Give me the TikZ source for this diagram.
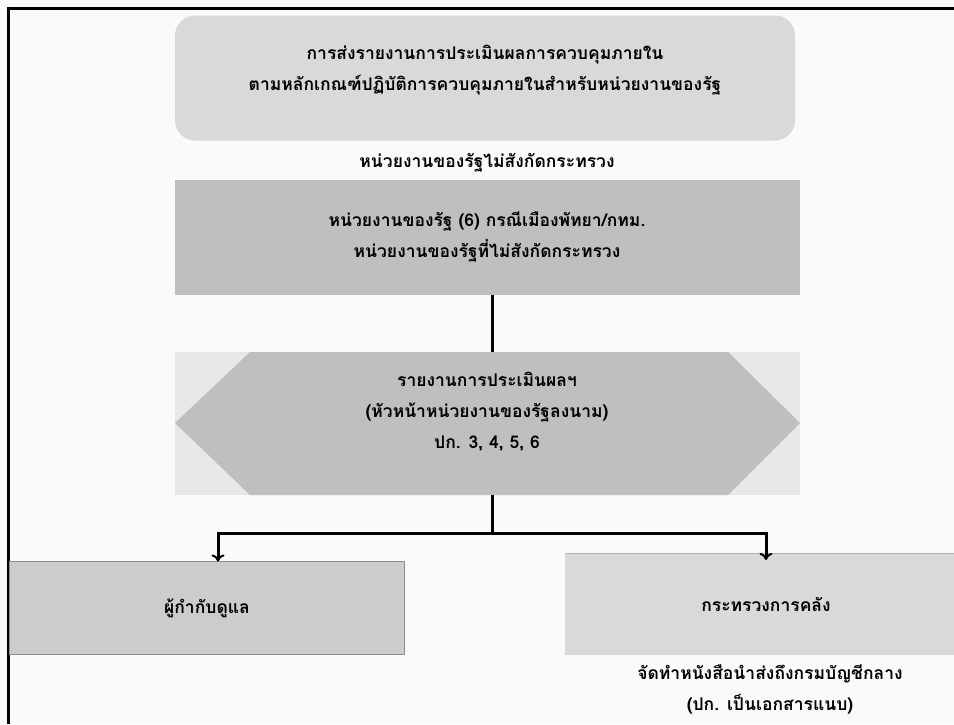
\documentclass[tikz,border=0pt]{standalone}
\usepackage{fontspec}
\newfontfamily\thaifont[Script=Thai]{Loma}
\usetikzlibrary{arrows.meta}
\definecolor{pagebg}{HTML}{FAFAFA}
\definecolor{boxlight}{HTML}{D9D9D9}
\definecolor{boxmid}{HTML}{BFBFBF}
\definecolor{boxleft}{HTML}{CCCCCC}
\definecolor{bandbg}{HTML}{E8E8E8}

\begin{document}
\begin{tikzpicture}[x=1pt,y=-1pt,
  thaitext/.style={font=\thaifont\bfseries\fontsize{17.5}{31}\selectfont, align=center, inner sep=0pt},
  plainbox/.style={minimum width=#1, inner sep=0pt, outer sep=0pt},
  link/.style={line width=3pt, black},
  tip/.style={link, -{To[length=7pt,width=13pt,line width=2pt]}}]
  \useasboundingbox (0,0) rectangle (954,724);
  \fill[pagebg] (0,0) rectangle (954,724);
  \draw[line width=3pt] (8,724) -- (8,8) -- (954,8);

  % head
  \node[plainbox=620pt, minimum height=125pt, fill=boxlight, rounded corners=20pt] (title) at (485,78) {};
  \node[thaitext] (titletext) at (485,70) {การส่งรายงานการประเมินผลการควบคุมภายใน\\ตามหลักเกณฑ์ปฏิบัติการควบคุมภายในสำหรับหน่วยงานของรัฐ};
  \node[thaitext] (group) at (487,163) {หน่วยงานของรัฐไม่สังกัดกระทรวง};

  \node[plainbox=625pt, minimum height=115pt, fill=boxmid, thaitext] (org) at (487,237)
    {หน่วยงานของรัฐ (6) กรณีเมืองพัทยา/กทม.\\หน่วยงานของรัฐที่ไม่สังกัดกระทรวง};

  % hexagon
  \fill[bandbg] (175,352) rectangle (800,495);
  \fill[boxmid] (175,423) -- (250,352) -- (728,352) -- (800,423) -- (728,495) -- (250,495) -- cycle;
  \node[plainbox=625pt, minimum height=143pt, thaitext, yshift=11pt] (report) at (487,423)
    {รายงานการประเมินผลฯ\\(หัวหน้าหน่วยงานของรัฐลงนาม)\\ปก. 3, 4, 5, 6};

  % targets
  \node[plainbox=395pt, minimum height=93pt, fill=boxleft, draw=black!45, thaitext] (oversee) at (207,608) {ผู้กำกับดูแล};
  \node[plainbox=402pt, minimum height=102pt, fill=boxlight, thaitext] (finance) at (766,604) {กระทรวงการคลัง};
  \draw[black!30, line width=1pt] (finance.north west) -- (finance.north east);
  \node[thaitext] (note) at (770,689)
    {จัดทำหนังสือนำส่งถึงกรมบัญชีกลาง\\(ปก. เป็นเอกสารแนบ)};

  \coordinate (split) at (492,533);
  \draw[link] (org.south -| split) -- ([yshift=-11pt]report.north -| split);
  \draw[link] ([yshift=-11pt]report.south -| split) -- (split);
  \draw[tip] (split) -| ([xshift=11pt]oversee.north);
  \draw[tip] (split) -| ([yshift=-7pt]finance.north);
\end{tikzpicture}
\end{document}
